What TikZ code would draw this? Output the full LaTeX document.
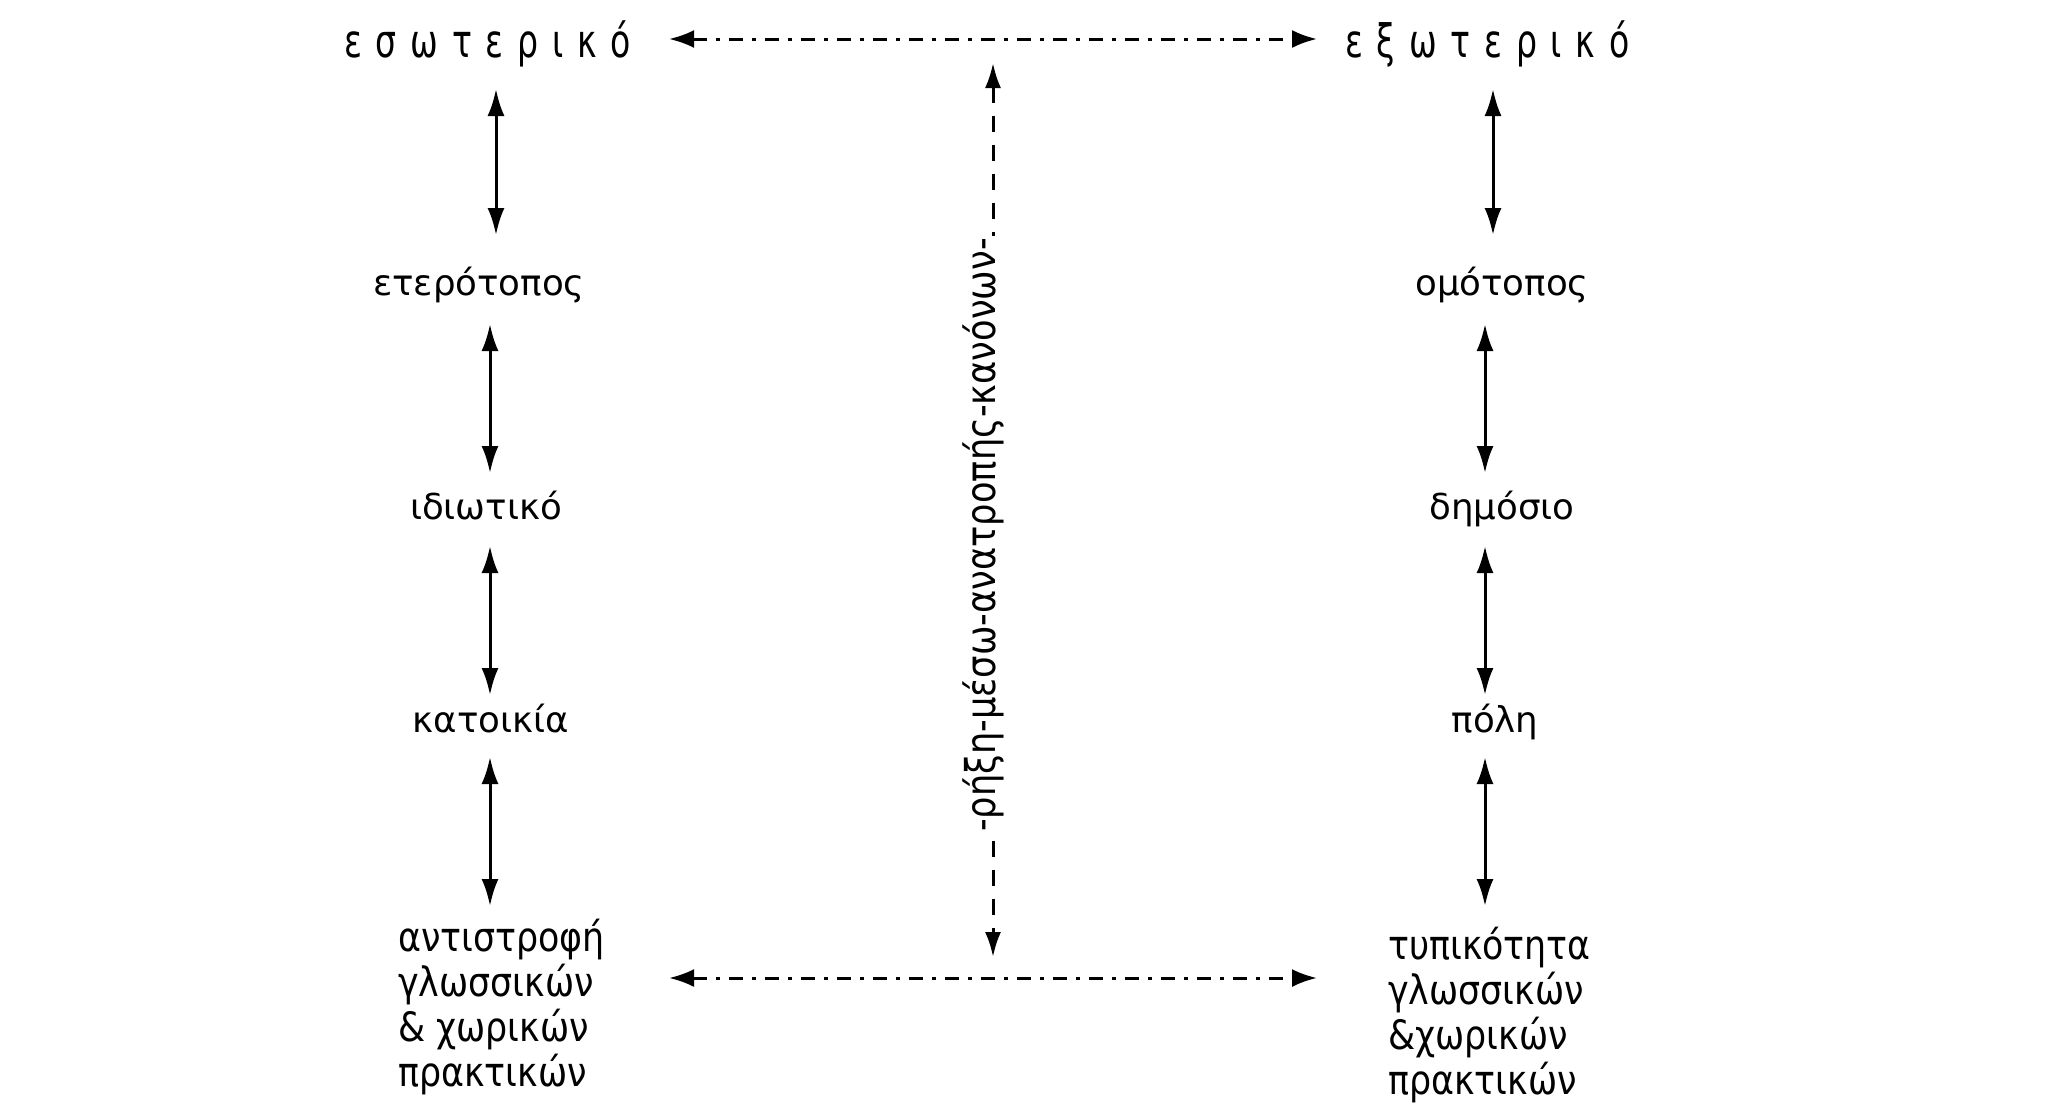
\documentclass[tikz,border=0pt]{standalone}
\usepackage{fontspec}
\setmainfont{DejaVu Sans}
\newfontfamily\condfont{DejaVu Sans}[FakeStretch=0.86]
\newfontfamily\spacedfont{DejaVu Sans}[FakeStretch=0.72,LetterSpace=30]
\usetikzlibrary{arrows.meta}
\begin{document}
\begin{tikzpicture}[x=1pt,y=-1pt,
  lbl/.style={inner sep=0pt,anchor=base,font=\fontsize{35.6}{40}\selectfont},
  toplbl/.style={inner sep=0pt,anchor=base west,font=\spacedfont\fontsize{46}{50}\selectfont},
  blocklbl/.style={inner sep=0pt,anchor=base west,align=left,font=\condfont\fontsize{40.5}{45}\selectfont},
  vlbl/.style={inner sep=2pt,fill=white,rotate=90,font=\condfont\fontsize{41}{45}\selectfont},
  biarrow/.style={line width=3pt,{Latex[length=27pt,width=17pt]}-{Latex[length=27pt,width=17pt]}},
  hdash/.style={line width=3pt,dash pattern=on 14pt off 9pt on 4pt off 9pt,{Latex[length=25pt,width=18pt]}-{Latex[length=25pt,width=18pt]}},
  vdash/.style={line width=3pt,dash pattern=on 16pt off 13pt,{Latex[length=25pt,width=16pt]}-{Latex[length=25pt,width=16pt]}}]
\useasboundingbox[fill=white] (0,0) rectangle (2048,1103);

% top labels
\node[toplbl] (esw) at (344,57) {εσωτερικό};
\node[toplbl] (exw) at (1345,57) {εξωτερικό};

% left column
\node[lbl] (eter) at (479,295) {ετερότοπος};
\node[lbl] (idio) at (486,519) {ιδιωτικό};
\node[lbl] (kato) at (491,732) {κατοικία};
\node[blocklbl] (antis) at (398,1086) {αντιστροφή\\γλωσσικών\\\& χωρικών\\πρακτικών};

% right column
\node[lbl] (omot) at (1502,295) {ομότοπος};
\node[lbl] (dimo) at (1502,519) {δημόσιο};
\node[lbl] (poli) at (1495,732) {πόλη};
\node[blocklbl] (typik) at (1388,1094) {τυπικότητα\\γλωσσικών\\\&χωρικών\\πρακτικών};

% arrow end coordinates
\coordinate (l1a) at (496,89);  \coordinate (l1b) at (496,235);
\coordinate (l2a) at (490,324); \coordinate (l2b) at (490,473);
\coordinate (l3a) at (490,546); \coordinate (l3b) at (490,695);
\coordinate (l4a) at (490,757); \coordinate (l4b) at (490,906);
\coordinate (r1a) at (1493,89);  \coordinate (r1b) at (1493,235);
\coordinate (r2a) at (1485,324); \coordinate (r2b) at (1485,473);
\coordinate (r3a) at (1485,546); \coordinate (r3b) at (1485,695);
\coordinate (r4a) at (1485,757); \coordinate (r4b) at (1485,906);
\coordinate (tl) at (669,39);  \coordinate (tr) at (1317,39);
\coordinate (bl) at (669,978); \coordinate (br) at (1317,978);
\coordinate (vt) at (993,63);  \coordinate (vb) at (993,957);

\draw[biarrow] (l1a) -- (l1b);
\draw[biarrow] (l2a) -- (l2b);
\draw[biarrow] (l3a) -- (l3b);
\draw[biarrow] (l4a) -- (l4b);
\draw[biarrow] (r1a) -- (r1b);
\draw[biarrow] (r2a) -- (r2b);
\draw[biarrow] (r3a) -- (r3b);
\draw[biarrow] (r4a) -- (r4b);

\draw[hdash] (tl) -- (tr);
\draw[hdash] (bl) -- (br);
\draw[vdash] (vt) -- (vb);

\node[vlbl] (rixi) at (983,535) {-ρήξη-μέσω-ανατροπής-κανόνων-};
\end{tikzpicture}
\end{document}
